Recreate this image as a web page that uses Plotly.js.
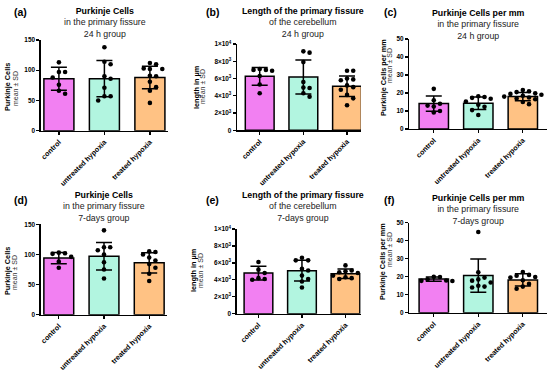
<!DOCTYPE html>
<html><head><meta charset="utf-8">
<script src="https://cdn.plot.ly/plotly-3.0.1.min.js"></script>
<style>html,body{margin:0;padding:0;background:#fff}#chart{width:550px;height:370px}</style>
</head><body><div id="chart"></div>
<script>
// ---------- data ----------
const categories = ['control', 'untreated hypoxia', 'treated hypoxia'];

const a_control = [113, 97, 97, 88, 76, 66, 61];
const a_untreated = [138, 114, 110, 90, 86, 71, 57, 57, 50];
const a_treated = [112, 110, 103, 102, 102, 91, 90, 81, 72, 66, 46];
const a_mean = [86, 86, 88];
const a_sd = [19, 30, 18.5];

const b_control = [7100, 7000, 7000, 6900, 6300, 5300, 4300];
const b_untreated = [9150, 9000, 7900, 5600, 4950, 4900, 4300, 3900];
const b_treated = [6900, 6900, 6000, 5900, 5800, 5200, 5000, 4700, 4100, 3700, 2900];
const b_mean = [6250, 6180, 5100];
const b_sd = [1040, 1970, 1180];

const c_control = [22.3, 16, 14, 13, 12.5, 10, 9.2];
const c_untreated = [18.2, 17.8, 17.3, 16.8, 15.3, 13.5, 12.3, 10.5, 7.8];
const c_treated = [21.7, 21, 20.5, 19.8, 19.5, 19, 18.5, 18, 17.5, 17, 16.5, 15, 13.8];
const c_mean = [14.1, 14.3, 18.0];
const c_sd = [4.3, 3.5, 2.3];

const d_control = [103, 102, 101, 96, 88, 78];
const d_untreated = [140, 112, 112, 107, 100, 87, 75, 60];
const d_treated = [105, 104, 100, 95, 90, 84, 78, 68, 56];
const d_mean = [94, 97, 86];
const d_sd = [9.4, 23, 16.8];

const e_control = [6100, 5200, 4800, 4200, 4100, 4000];
const e_untreated = [6600, 6300, 6300, 5300, 5100, 4500, 4100, 3800, 3100];
const e_treated = [5700, 5100, 5000, 4900, 4800, 4500, 4300, 4200, 4100];
const e_mean = [4800, 5080, 4720];
const e_sd = [810, 1220, 570];

const f_control = [20, 19.8, 18.5, 17.9, 17.7, 17.6];
const f_untreated = [44.8, 22.5, 19.5, 18.5, 17.8, 16.8, 15, 14.5, 14.0];
const f_treated = [22.6, 21, 20.5, 19.8, 19.5, 18, 16, 14.5, 13.3];
const f_mean = [18.7, 20.6, 18.2];
const f_sd = [1.2, 9.3, 3.4];

const cellTicks = [0, 50, 100, 150];
const lenTickVals = [0, 2000, 4000, 6000, 8000, 10000];
const lenTickText = ['0', '2×10<sup>3</sup>', '4×10<sup>3</sup>', '6×10<sup>3</sup>', '8×10<sup>3</sup>', '1×10<sup>4</sup>'];
const perMmTicks = [0, 10, 20, 30, 40, 50];

const titles = [
  ['Purkinje Cells', 'in the primary fissure', '24 h group'],
  ['Length of the primary fissure', 'of the cerebellum', '24 h group'],
  ['Purkinje Cells per mm', 'in the primary fissure', '24 h group'],
  ['Purkinje Cells', 'in the primary fissure', '7-days group'],
  ['Length of the primary fissure', 'of the cerebellum', '7-days group'],
  ['Purkinje Cells per mm', 'in the primary fissure', '7-days group']
];
const panelLabels = ['(a)', '(b)', '(c)', '(d)', '(e)', '(f)'];
const yTitles = ['Purkinje Cells', 'length in µm', 'Purkinje Cells per mm', 'Purkinje Cells', 'length in µm', 'Purkinje Cells per mm'];

const panels = [
  {pts: [a_control, a_untreated, a_treated], mean: a_mean, sd: a_sd, ymax: 150, tv: cellTicks, tt: null},
  {pts: [b_control, b_untreated, b_treated], mean: b_mean, sd: b_sd, ymax: 10000, tv: lenTickVals, tt: lenTickText},
  {pts: [c_control, c_untreated, c_treated], mean: c_mean, sd: c_sd, ymax: 50, tv: perMmTicks, tt: null},
  {pts: [d_control, d_untreated, d_treated], mean: d_mean, sd: d_sd, ymax: 150, tv: cellTicks, tt: null},
  {pts: [e_control, e_untreated, e_treated], mean: e_mean, sd: e_sd, ymax: 10000, tv: lenTickVals, tt: lenTickText},
  {pts: [f_control, f_untreated, f_treated], mean: f_mean, sd: f_sd, ymax: 50, tv: perMmTicks, tt: null}
];

// ---------- layout geometry (pixels) ----------
const W = 550, H = 370;
const geo = [
  {x0: 40.7, x1: 168.1, y0: 40, y1: 130.7, xr: [-0.4, 2.4], tx: 104.5, ty: 4, lx: 12, ly: 12, t1x: 7, t1y: 87, t2x: 15, t2y: 89},
  {x0: 237, x1: 361, y0: 44, y1: 130.3, xr: [-0.52, 2.32], tx: 303, ty: 4, lx: 204, ly: 12.5, t1x: 196, t1y: 87, t2x: 202, t2y: 87},
  {x0: 409.3, x1: 547.3, y0: 39, y1: 129, xr: [-0.55, 2.55], tx: 478, ty: 6, lx: 382, ly: 12.5, t1x: 383, t1y: 78, t2x: 390, t2y: 66},
  {x0: 40.7, x1: 167.3, y0: 224.3, y1: 314.7, xr: [-0.4, 2.4], tx: 104, ty: 188, lx: 12, ly: 200, t1x: 7, t1y: 271, t2x: 14, t2y: 273},
  {x0: 236.7, x1: 360.7, y0: 229, y1: 313.7, xr: [-0.5, 2.35], tx: 303, ty: 188, lx: 204, ly: 200, t1x: 193, t1y: 270, t2x: 200, t2y: 271},
  {x0: 409.3, x1: 547.3, y0: 222.7, y1: 312.7, xr: [-0.55, 2.55], tx: 478, ty: 191, lx: 382, ly: 200, t1x: 382, t1y: 262, t2x: 389, t2y: 250}
];
const colors = ['#F280F2', '#B2F5E0', '#FFC284'];
const FONT = 'Liberation Sans, Arial, sans-serif';

function px2x(p) { return p / W; }
function px2y(p) { return 1 - p / H; }

// deterministic beeswarm offsets (in category units)
function swarm(vals, pxPerUnit, pxPerCat) {
  const step = 6.2, thr = 5.6;
  const order = vals.map((v, i) => i).sort((i, j) => vals[j] - vals[i]);
  const placed = [];
  const offs = new Array(vals.length).fill(0);
  order.forEach(i => {
    const y = vals[i] * pxPerUnit;
    for (let k = 0; k < 20; k++) {
      const m = k === 0 ? 0 : (k % 2 ? Math.ceil(k / 2) : -Math.ceil(k / 2));
      const x = m * step;
      if (placed.every(p => Math.hypot(p.x - x, p.y - y) >= thr)) {
        placed.push({x, y}); offs[i] = x / pxPerCat; break;
      }
    }
  });
  return offs;
}

const traces = [];
const layout = {
  width: W, height: H, margin: {l: 0, r: 0, t: 0, b: 0},
  paper_bgcolor: '#fff', plot_bgcolor: 'rgba(0,0,0,0)',
  showlegend: false, font: {family: FONT, color: '#000'},
  annotations: []
};

panels.forEach((p, k) => {
  const g = geo[k];
  const n = k + 1;
  const xa = 'x' + (n === 1 ? '' : n), ya = 'y' + (n === 1 ? '' : n);
  const xkey = 'xaxis' + (n === 1 ? '' : n), ykey = 'yaxis' + (n === 1 ? '' : n);
  const pxPerUnit = (g.y1 - g.y0) / p.ymax;
  const pxPerCat = (g.x1 - g.x0) / (g.xr[1] - g.xr[0]);

  traces.push({
    type: 'bar', x: [0, 1, 2], y: p.mean, xaxis: xa, yaxis: ya, width: 0.66,
    marker: {color: colors, line: {color: '#000', width: 1.5}},
    error_y: {type: 'data', array: p.sd, visible: true, color: '#000', thickness: 1.5, width: 8},
    hoverinfo: 'skip'
  });
  p.pts.forEach((vals, ci) => {
    const offs = swarm(vals, pxPerUnit, pxPerCat);
    traces.push({
      type: 'scatter', mode: 'markers', xaxis: xa, yaxis: ya,
      x: vals.map((v, i) => ci + offs[i]), y: vals,
      marker: {color: '#000', size: 4.6}, cliponaxis: false, hoverinfo: 'skip'
    });
  });

  layout[xkey] = {
    domain: [px2x(g.x0), px2x(g.x1)], anchor: ya, range: g.xr,
    tickvals: [0, 1, 2], ticktext: categories.map(c => '<b>' + c + '</b>'),
    tickangle: -45, ticks: 'outside', ticklen: 3, tickwidth: 1.3, tickcolor: '#000',
    showline: true, linecolor: '#000', linewidth: 1.4, showgrid: false, zeroline: false,
    tickfont: {family: FONT, size: 7.2, color: '#000'}, fixedrange: true
  };
  layout[ykey] = {
    domain: [px2y(g.y1), px2y(g.y0)], anchor: xa, range: [0, p.ymax],
    tickvals: p.tv, ticktext: (p.tt || p.tv.map(String)).map(t => '<b>' + t + '</b>'),
    ticks: 'outside', ticklen: 3, tickwidth: 1.3, tickcolor: '#000',
    showline: true, linecolor: '#000', linewidth: 1.4, showgrid: false, zeroline: false,
    tickfont: {family: FONT, size: 6.4, color: '#000'}, fixedrange: true
  };

  const t = titles[k];
  layout.annotations.push({
    xref: 'paper', yref: 'paper', x: px2x(g.tx), y: px2y(g.ty), xanchor: 'center', yanchor: 'top',
    showarrow: false, align: 'center',
    text: '<b>' + t[0] + '</b><br><span style="color:#222">' + t[1] + '</span><br><span style="color:#222">' + t[2] + '</span>',
    font: {family: FONT, size: 8.8, color: '#000'}
  });
  layout.annotations.push({
    xref: 'paper', yref: 'paper', x: px2x(g.lx), y: px2y(g.ly), xanchor: 'left', yanchor: 'middle',
    showarrow: false, text: '<b>' + panelLabels[k] + '</b>', font: {family: FONT, size: 10.5, color: '#000'}
  });
  layout.annotations.push({
    xref: 'paper', yref: 'paper', x: px2x(g.t1x), y: px2y(g.t1y), xanchor: 'center', yanchor: 'middle',
    showarrow: false, textangle: -90, text: '<b>' + yTitles[k] + '</b>', font: {family: FONT, size: 7.3, color: '#000'}
  });
  layout.annotations.push({
    xref: 'paper', yref: 'paper', x: px2x(g.t2x), y: px2y(g.t2y), xanchor: 'center', yanchor: 'middle',
    showarrow: false, textangle: -90, text: 'mean ± SD', font: {family: FONT, size: 7, color: '#333'}
  });
});

Plotly.newPlot('chart', traces, layout, {staticPlot: true, displayModeBar: false});
</script>
</body></html>
